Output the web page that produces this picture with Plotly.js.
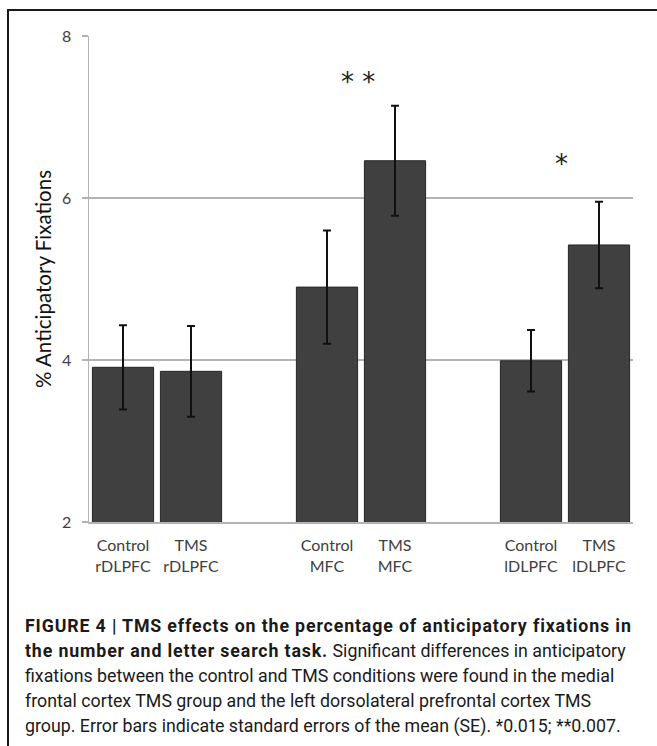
<!DOCTYPE html>
<html>
<head>
<meta charset="utf-8">
<script src="https://cdn.plot.ly/plotly-3.0.1.min.js"></script>
<style>
  html, body { margin: 0; padding: 0; background: #fff; }
  #wrap { position: relative; width: 657px; height: 746px; overflow: hidden; }
  #frame { position: absolute; left: 7px; top: 9px; width: 700px; height: 800px; border: 2px solid #1a1a1a; box-sizing: border-box; }
  #chart { position: absolute; left: 0; top: 0; width: 657px; height: 746px; }
  #caption { position: absolute; left: 25px; top: 613px; font-family: "Roboto", "Liberation Sans Narrow", sans-serif; font-size: 17.8px; line-height: 25px; color: #1a1a1a; }
  #caption div { white-space: nowrap; }
  #caption b { font-weight: bold; letter-spacing: 0.85px; }
</style>
</head>
<body>
<div id="wrap">
  <div id="chart"></div>
  <div id="frame"></div>
  <div id="caption">
    <div><b>FIGURE 4 | TMS effects on the percentage of anticipatory fixations in</b></div>
    <div><b>the number and letter search task.</b> Significant differences in anticipatory</div>
    <div>fixations between the control and TMS conditions were found in the medial</div>
    <div>frontal cortex TMS group and the left dorsolateral prefrontal cortex TMS</div>
    <div>group. Error bars indicate standard errors of the mean (SE). *0.015; **0.007.</div>
  </div>
</div>
<script>
// ---- data ----
const categories = ["Control<br>rDLPFC", "TMS<br>rDLPFC", "Control<br>MFC", "TMS<br>MFC", "Control<br>lDLPFC", "TMS<br>lDLPFC"];
const values = [3.91, 3.86, 4.90, 6.46, 3.99, 5.42];
const errors = [0.52, 0.56, 0.70, 0.68, 0.38, 0.535];
const axisOrder = ["Control<br>rDLPFC", "TMS<br>rDLPFC", " ", "Control<br>MFC", "TMS<br>MFC", "  ", "Control<br>lDLPFC", "TMS<br>lDLPFC"];
const yTicks = [2, 4, 6, 8];
const sigLabels = ["* *", "*"];
const sigX = [3.45, 6.45];
const sigY = [7.43, 6.42];

const trace = {
  type: "bar",
  x: categories,
  y: values,
  marker: { color: "#404040", line: { color: "#262626", width: 1 } },
  error_y: { type: "data", array: errors, visible: true, color: "#111", thickness: 2, width: 4 },
  hoverinfo: "none"
};

const layout = {
  width: 657, height: 746,
  margin: { l: 89, r: 24, t: 36, b: 224, pad: 0 },
  paper_bgcolor: "rgba(0,0,0,0)",
  plot_bgcolor: "#fff",
  bargap: 0.1,
  showlegend: false,
  font: { family: "Lato, sans-serif", size: 16, color: "#404040" },
  xaxis: {
    type: "category",
    categoryorder: "array",
    categoryarray: axisOrder,
    range: [-0.5, 7.5],
    showline: true, linecolor: "#b3b3b3", linewidth: 1.5,
    ticks: "", showgrid: false, zeroline: false,
    tickfont: { family: "Lato, sans-serif", size: 16, color: "#404040" },
    ticklabelstandoff: 8
  },
  yaxis: {
    range: [2, 8],
    tickvals: yTicks,
    ticktext: yTicks.map(String),
    showline: true, linecolor: "#b3b3b3", linewidth: 1.5,
    ticks: "outside", ticklen: 6, tickcolor: "#b3b3b3", tickwidth: 1.5,
    showgrid: true, gridcolor: "#b3b3b3", gridwidth: 1.5,
    zeroline: false,
    ticklabelstandoff: 7,
    tickfont: { family: "Lato, sans-serif", size: 16, color: "#404040" },
    title: { text: "% Anticipatory Fixations", font: { family: "Lato, sans-serif", size: 20.5, color: "#111" }, standoff: 5 }
  },
  annotations: sigLabels.map((t, i) => ({
    xref: "x", yref: "y",
    x: sigX[i], y: sigY[i],
    text: t, showarrow: false,
    font: { family: "DejaVu Sans, sans-serif", size: 26, color: "#222" }
  }))
};

Plotly.newPlot("chart", [trace], layout, { displayModeBar: false, staticPlot: true });
</script>
</body>
</html>
